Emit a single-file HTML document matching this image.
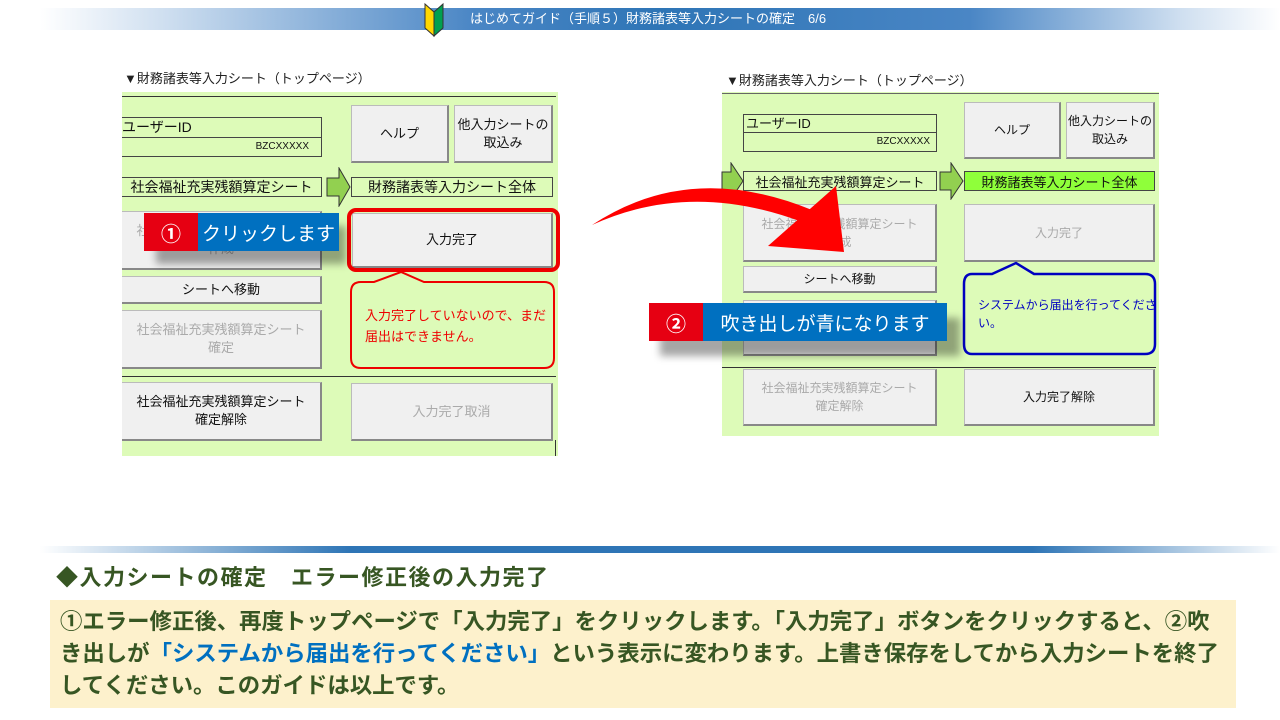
<!DOCTYPE html>
<html><head><meta charset="utf-8"><style>
*{margin:0;padding:0;box-sizing:border-box}
body{width:1280px;height:720px;position:relative;background:#fff;font-family:"Liberation Sans","Noto Sans CJK JP",sans-serif;overflow:hidden}
.a{position:absolute}
.btn{position:absolute;background:#f0f0f0;border:1px solid #bbb;border-right:2px solid #888;border-bottom:2px solid #888;display:flex;align-items:center;justify-content:center;text-align:center;font-size:13px;color:#111;line-height:18px}
.dis{color:#aaa}
.box{position:absolute;border:1px solid #444;background:#ddfbb8;font-size:14px;color:#111;display:flex;align-items:center;justify-content:center}
.panel{position:absolute;background:#ddfbb8}
</style></head><body>
<!-- header -->
<div class="a" style="left:40px;top:8px;width:1240px;height:22px;background:linear-gradient(90deg,#fff 0%,#cfdff0 10%,#4a86c5 35%,#2e75b6 50%,#4a86c5 75%,#cfdff0 92%,#fff 100%)"></div>
<svg class="a" style="left:423px;top:2px" width="22" height="36"><path d="M2 2 L11 10 L11 34 L2 26Z" fill="#ffd700" stroke="#333" stroke-width="1"/><path d="M20 2 L11 10 L11 34 L20 26Z" fill="#00a050" stroke="#333" stroke-width="1"/></svg>
<div class="a" style="left:470px;top:10px;font-size:13px;color:#fff;line-height:18px">はじめてガイド（手順５）財務諸表等入力シートの確定　6/6</div>

<div class="a" style="left:124px;top:68px;font-size:13px;color:#222">▼財務諸表等入力シート（トップページ）</div>
<div class="a" style="left:726px;top:70px;font-size:13px;color:#222">▼財務諸表等入力シート（トップページ）</div>

<!-- left panel -->
<div class="panel" style="left:122px;top:92px;width:436px;height:364px"></div>
<div class="a" style="left:122px;top:96px;width:434px;height:1px;background:#333"></div>
<div class="box" style="left:122px;top:117px;width:200px;height:40px;display:block;border-left:none">
 <div style="height:20px;border-bottom:1px solid #444;font-size:14px;padding-left:0;line-height:19px">ユーザーID</div>
 <div style="font-size:10px;text-align:right;padding-right:12px;line-height:18px">BZCXXXXX</div></div>
<div class="btn" style="left:351px;top:105px;width:98px;height:58px">ヘルプ</div>
<div class="btn" style="left:454px;top:105px;width:99px;height:58px">他入力シートの<br>取込み</div>
<div class="box" style="left:122px;top:177px;width:200px;height:20px;border-left:none">社会福祉充実残額算定シート</div>
<svg class="a" style="left:326px;top:167px" width="26" height="40"><path d="M1 11 H13 V1 L24 20 L13 39 V29 H1Z" fill="#92d050" stroke="#333"/></svg>
<div class="box" style="left:351px;top:177px;width:202px;height:20px">財務諸表等入力シート全体</div>
<div class="btn" style="left:122px;top:211px;width:200px;height:59px;color:#aaa;border-left:none">社会福祉充実残額算定シート<br>作成</div>
<div class="btn" style="left:352px;top:213px;width:201px;height:55px">入力完了</div>
<div class="a" style="left:347px;top:208px;width:213px;height:64px;border:4px solid #e00;border-radius:9px"></div>
<div class="btn" style="left:122px;top:276px;width:200px;height:28px;border-left:none">シートへ移動</div>
<div class="btn dis" style="left:122px;top:310px;width:200px;height:59px;border-left:none">社会福祉充実残額算定シート<br>確定</div>
<svg class="a" style="left:349px;top:270px" width="208" height="102"><path d="M12 12 H25 L52 2 L75 12 H195 Q205 12 205 22 V88 Q205 98 195 98 H12 Q2 98 2 88 V22 Q2 12 12 12Z" fill="#ddfbb8" stroke="#e00" stroke-width="2"/></svg>
<div class="a" style="left:365px;top:305px;font-size:13px;color:#e00;line-height:21px">入力完了していないので、まだ<br>届出はできません。</div>
<div class="a" style="left:122px;top:376px;width:434px;height:1px;background:#333"></div>
<div class="btn" style="left:122px;top:382px;width:200px;height:59px;border-left:none">社会福祉充実残額算定シート<br>確定解除</div>
<div class="btn dis" style="left:351px;top:383px;width:202px;height:58px">入力完了取消</div>
<div class="a" style="left:555px;top:440px;width:1px;height:16px;background:#333"></div>
<!-- callout 1 -->
<div class="a" style="left:156px;top:226px;width:190px;height:38px;background:rgba(0,0,0,.35);filter:blur(4px)"></div>
<div class="a" style="left:144px;top:213px;width:54px;height:38px;background:#e60012;color:#fff;font-size:20px;font-weight:bold;display:flex;align-items:center;justify-content:center">①</div>
<div class="a" style="left:198px;top:213px;width:141px;height:38px;background:#0070c0;color:#fff;font-size:19px;display:flex;align-items:center;justify-content:center">クリックします</div>

<!-- right panel -->
<div class="panel" style="left:722px;top:92px;width:437px;height:344px"></div>
<div class="a" style="left:722px;top:93px;width:437px;height:1px;background:#666"></div>
<div class="box" style="left:743px;top:114px;width:194px;height:38px;display:block">
 <div style="height:18px;border-bottom:1px solid #444;font-size:13px;line-height:17px;padding-left:2px">ユーザーID</div>
 <div style="font-size:10px;text-align:right;padding-right:6px;line-height:18px">BZCXXXXX</div></div>
<div class="btn" style="left:964px;top:102px;width:97px;height:57px;font-size:12px">ヘルプ</div>
<div class="btn" style="left:1066px;top:102px;width:89px;height:57px;font-size:12px">他入力シートの<br>取込み</div>
<svg class="a" style="left:721px;top:162px" width="24" height="38"><path d="M1 10 H10 V1 L22 19 L10 37 V28 H1Z" fill="#92d050" stroke="#333"/></svg>
<div class="box" style="left:743px;top:171px;width:194px;height:20px;font-size:13px">社会福祉充実残額算定シート</div>
<svg class="a" style="left:939px;top:162px" width="26" height="38"><path d="M1 10 H12 V1 L24 19 L12 37 V28 H1Z" fill="#92d050" stroke="#333"/></svg>
<div class="box" style="left:964px;top:171px;width:191px;height:20px;font-size:13px;background:#8fff3a">財務諸表等入力シート全体</div>
<div class="btn dis" style="left:743px;top:204px;width:194px;height:58px;font-size:12px">社会福祉充実残額算定シート<br>作成</div>
<div class="btn dis" style="left:964px;top:204px;width:191px;height:58px;font-size:12px">入力完了</div>
<div class="btn" style="left:743px;top:266px;width:194px;height:27px;font-size:12px">シートへ移動</div>
<div class="btn" style="left:743px;top:300px;width:194px;height:56px;font-size:12px"></div>
<svg class="a" style="left:962px;top:260px" width="196" height="97"><path d="M10 14 H30 L54 3 L72 14 H183 Q193 14 193 24 V84 Q193 94 183 94 H10 Q2 94 2 84 V24 Q2 14 10 14Z" fill="#ddfbb8" stroke="#0000c0" stroke-width="2.5"/></svg>
<div class="a" style="left:978px;top:296px;font-size:12px;color:#0000c0;line-height:18px">システムから届出を行ってくださ<br>い。</div>
<div class="a" style="left:722px;top:367px;width:434px;height:1px;background:#333"></div>
<div class="btn dis" style="left:743px;top:369px;width:194px;height:57px;font-size:12px">社会福祉充実残額算定シート<br>確定解除</div>
<div class="btn" style="left:964px;top:369px;width:191px;height:57px;font-size:12px">入力完了解除</div>
<!-- red arrow -->
<svg class="a" style="left:580px;top:160px" width="280" height="110"><path d="M12 65 Q110 0 232 50 L222 62 Q110 20 12 65Z" fill="#f00"/><path d="M188 86 L256 26 L264 92Z" fill="#f00"/></svg>
<!-- callout 2 -->
<div class="a" style="left:660px;top:318px;width:300px;height:38px;background:rgba(0,0,0,.35);filter:blur(4px)"></div>
<div class="a" style="left:649px;top:303px;width:54px;height:38px;background:#e60012;color:#fff;font-size:20px;font-weight:bold;display:flex;align-items:center;justify-content:center">②</div>
<div class="a" style="left:703px;top:303px;width:244px;height:38px;background:#0070c0;color:#fff;font-size:19px;display:flex;align-items:center;justify-content:center">吹き出しが青になります</div>

<!-- bottom -->
<div class="a" style="left:40px;top:546px;width:1240px;height:7px;background:linear-gradient(90deg,#fff 0%,#2e75b6 25%,#2e75b6 80%,#fff 100%)"></div>
<div class="a" style="left:56px;top:563px;font-size:22px;font-weight:bold;color:#375623;line-height:30px;letter-spacing:1.5px">◆入力シートの確定　エラー修正後の入力完了</div>
<div class="a" style="left:50px;top:600px;width:1186px;height:108px;background:#fdf1cc"></div>
<div class="a" style="left:60px;top:606px;width:1176px;font-size:22.4px;font-weight:bold;color:#375623;line-height:32px;white-space:nowrap">①エラー修正後、再度トップページで「入力完了」をクリックします。「入力完了」ボタンをクリックすると、②吹<br>き出しが<span style="color:#0070c0">「システムから届出を行ってください」</span>という表示に変わります。上書き保存をしてから入力シートを終了<br>してください。このガイドは以上です。</div>
</body></html>
